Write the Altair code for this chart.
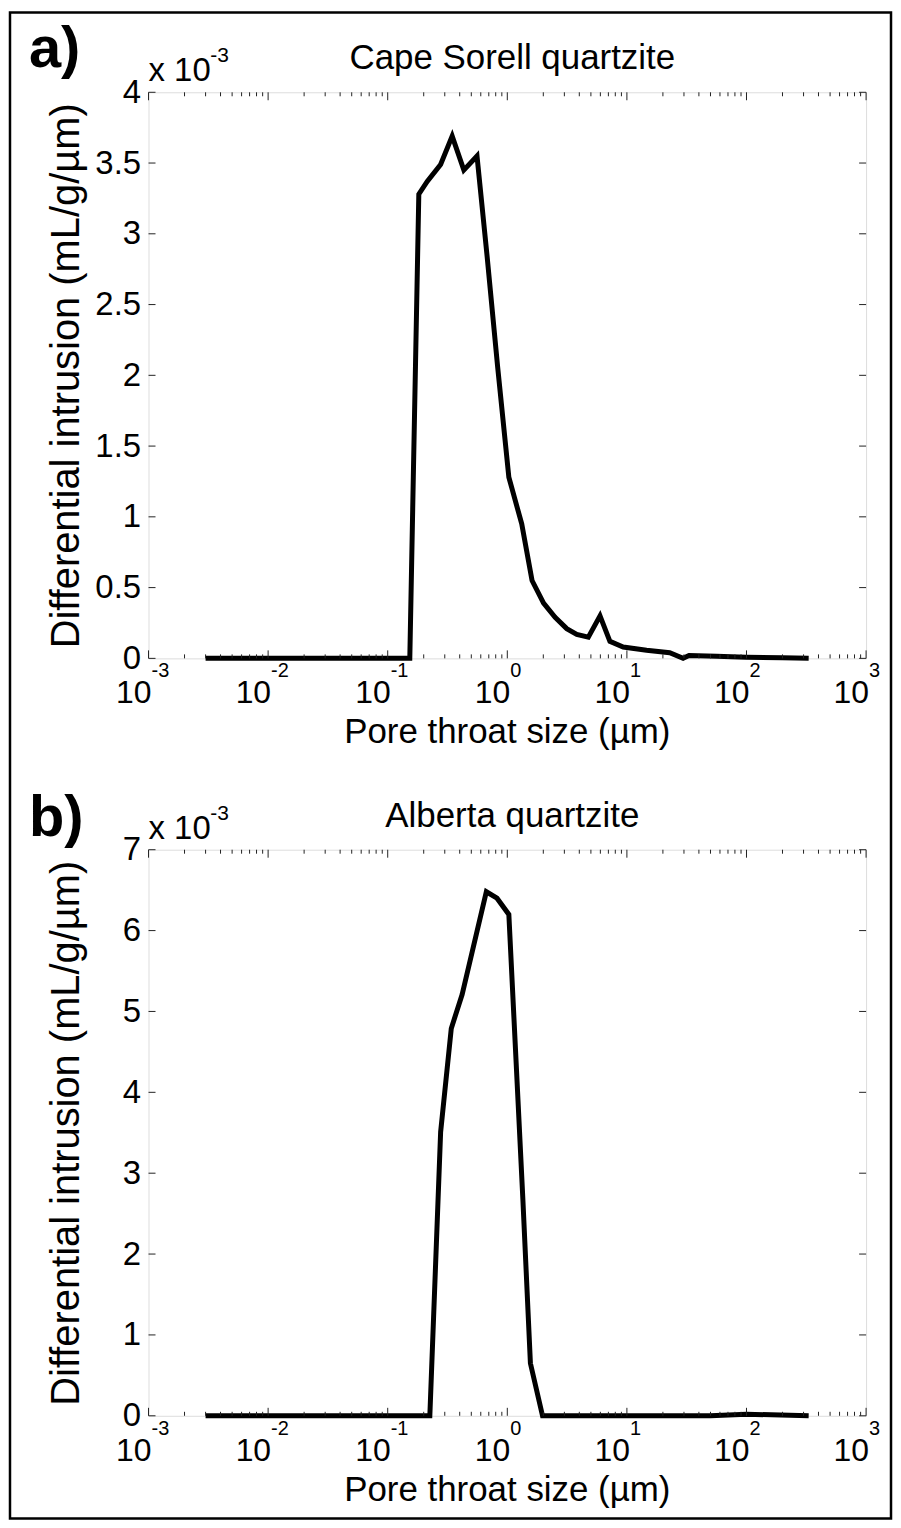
import altair as alt
import pandas as pd

FONT = "Liberation Sans"
W, H = 720, 568

# Panel a: Cape Sorell quartzite (pore throat size in µm, differential intrusion in 1e-3 mL/g/µm)
size_a = [0.0030, 0.010, 0.0316, 0.100, 0.153, 0.182, 0.214, 0.277, 0.346, 0.433,
          0.558, 0.678, 0.830, 1.03, 1.32, 1.61, 2.01, 2.51, 3.14, 3.81,
          4.76, 5.96, 7.21, 9.31, 14.6, 22.8, 29.5, 33.1, 56.2, 100.0,
          200.0, 331.0]
intr_a = [0, 0, 0, 0, 0, 3.28, 3.37, 3.49, 3.69, 3.45,
          3.55, 2.84, 2.06, 1.28, 0.95, 0.55, 0.39, 0.29, 0.21, 0.17,
          0.15, 0.30, 0.12, 0.08, 0.057, 0.04, 0.0, 0.02, 0.015, 0.008,
          0.004, 0.0]

# Panel b: Alberta quartzite
size_b = [0.0030, 0.010, 0.0316, 0.100, 0.225, 0.277, 0.340, 0.419, 0.668, 0.820,
          1.03, 1.35, 1.56, 1.97, 10.0, 50.0, 100.0, 331.0]
intr_b = [0, 0, 0, 0, 0, 3.51, 4.79, 5.21, 6.48, 6.40,
          6.20, 2.67, 0.65, 0, 0, 0.0, 0.02, 0]

decades = [0.001, 0.01, 0.1, 1, 10, 100, 1000]
exponents = ["-3", "-2", "-1", "0", "1", "2", "3"]
minor_mult = [2, 3, 4, 5, 6, 7, 8, 9]
minor = [m * d for d in decades[:-1] for m in minor_mult]

yticks_a = [0, 0.5, 1, 1.5, 2, 2.5, 3, 3.5, 4]
yticks_b = [0, 1, 2, 3, 4, 5, 6, 7]

ytitle = "Differential intrusion (mL/g/\u00b5m)"
xtitle = "Pore throat size (\u00b5m)"


def one():
    return pd.DataFrame({"k": [0]})


def panel(size, intr, ymax, yticks, title, letter, letter_y, border=False):
    xs = alt.Scale(type="log", domain=[0.001, 1000])
    ys = alt.Scale(domain=[0, ymax], nice=False, zero=False)
    yaxis = alt.Axis(values=yticks, format=".1~f", ticks=False, tickSize=0, domain=False,
                     grid=False, labelFontSize=33, labelFont=FONT, labelColor="black",
                     labelPadding=8, title=ytitle, titleFontSize=40, titleFont=FONT,
                     titleFontWeight="normal", titleColor="black", titleX=-62, titleY=H / 2,
                     titleAngle=270, titleBaseline="bottom", titleAlign="center")
    X = alt.X("x:Q", scale=xs, axis=None)
    Y = alt.Y("y:Q", scale=ys, axis=yaxis)

    df = pd.DataFrame({"x": size, "y": intr})
    line = alt.Chart(df).mark_line(color="black", strokeWidth=5).encode(x=X, y=Y)

    maj = pd.DataFrame({"x": decades})
    mnr = pd.DataFrame({"x": minor})
    layers = [line]
    for d, L in ((maj, 8), (mnr, 4)):
        layers.append(alt.Chart(d).mark_rule(color="#222", strokeWidth=1).encode(
            x=X, y=alt.value(H), y2=alt.value(H - L)))
        layers.append(alt.Chart(d).mark_rule(color="#222", strokeWidth=1).encode(
            x=X, y=alt.value(0), y2=alt.value(L)))
    ydf = pd.DataFrame({"y": yticks})
    layers.append(alt.Chart(ydf).mark_rule(color="#222", strokeWidth=1).encode(
        y=Y, x=alt.value(0), x2=alt.value(7)))
    layers.append(alt.Chart(ydf).mark_rule(color="#222", strokeWidth=1).encode(
        y=Y, x=alt.value(W - 7), x2=alt.value(W)))

    lab = pd.DataFrame({"x": decades, "e": exponents})
    layers.append(alt.Chart(lab).mark_text(text="10", align="right", baseline="alphabetic",
                                           fontSize=32, font=FONT, color="black", dx=3).encode(
        x=X, y=alt.value(H + 45)))
    layers.append(alt.Chart(lab).mark_text(align="left", baseline="alphabetic",
                                           fontSize=20, font=FONT, color="black", dx=3).encode(
        x=X, y=alt.value(H + 19), text="e:N"))

    layers.append(alt.Chart(one()).mark_text(text=xtitle, fontSize=35, font=FONT, color="black",
                                             baseline="alphabetic", align="center").encode(
        x=alt.value(W / 2), y=alt.value(H + 85)))
    layers.append(alt.Chart(one()).mark_text(text=title, fontSize=35, font=FONT, color="black",
                                             baseline="alphabetic", align="center").encode(
        x=alt.value(W / 2 + 5), y=alt.value(-23)))
    layers.append(alt.Chart(one()).mark_text(text="x 10", fontSize=33, font=FONT, color="black",
                                             baseline="alphabetic", align="left").encode(
        x=alt.value(0), y=alt.value(-11)))
    layers.append(alt.Chart(one()).mark_text(text="-3", fontSize=21, font=FONT, color="black",
                                             baseline="alphabetic", align="left").encode(
        x=alt.value(62), y=alt.value(-30)))
    layers.append(alt.Chart(one()).mark_text(text=letter, fontSize=58, font=FONT, fontWeight="bold",
                                             color="black", baseline="alphabetic", align="left").encode(
        x=alt.value(-120), y=alt.value(letter_y)))
    if border:
        layers.append(alt.Chart(one()).mark_rect(fill=None, fillOpacity=0, stroke="black",
                                                 strokeWidth=2.5).encode(
            x=alt.value(-139), x2=alt.value(745), y=alt.value(-80), y2=alt.value(1431)))
    return alt.layer(*layers).properties(width=W, height=H)


pa = panel(size_a, intr_a, 4, yticks_a, "Cape Sorell quartzite", "a)", -25, border=True)
pb = panel(size_b, intr_b, 7, yticks_b, "Alberta quartzite", "b)", -14)

chart = alt.vconcat(pa, pb, spacing=192, bounds="flush").properties(
    padding={"left": 0, "top": 0, "right": 0, "bottom": 0}
).configure_view(stroke="#222", strokeWidth=1.2).configure(background="white")

chart.save("out.html", embed_options={"renderer": "svg", "actions": False})
